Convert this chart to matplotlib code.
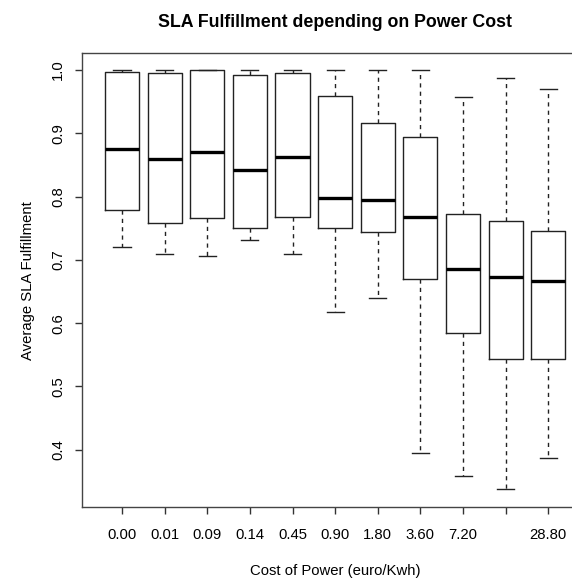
import matplotlib.pyplot as plt

# -----------------------------
# data
# -----------------------------
costs = ["0.00", "0.01", "0.09", "0.14", "0.45", "0.90", "1.80", "3.60", "7.20", "14.40", "28.80"]
whis_lo = [0.720, 0.710, 0.706, 0.731, 0.710, 0.617, 0.639, 0.394, 0.358, 0.338, 0.387]
q1 = [0.779, 0.759, 0.766, 0.750, 0.768, 0.750, 0.744, 0.670, 0.585, 0.543, 0.543]
med = [0.875, 0.860, 0.870, 0.842, 0.862, 0.798, 0.794, 0.768, 0.686, 0.673, 0.666]
q3 = [0.997, 0.996, 1.000, 0.993, 0.995, 0.959, 0.916, 0.894, 0.773, 0.761, 0.745]
whis_hi = [1.000, 1.000, 1.000, 1.000, 1.000, 1.000, 1.000, 1.000, 0.958, 0.987, 0.970]

# R dropped the "14.40" label because it overlapped its neighbours
shown_labels = [c if c != "14.40" else "" for c in costs]

plt.rcParams['font.family'] = ['Liberation Sans', 'DejaVu Sans']

stats = []
for i in range(len(costs)):
    stats.append(dict(whislo=whis_lo[i], q1=q1[i], med=med[i], q3=q3[i],
                      whishi=whis_hi[i], fliers=[], label=costs[i]))

fig = plt.figure(figsize=(5.72, 5.79), dpi=100)
ax = fig.add_axes([0.1434, 0.1244, 0.8566, 0.7836])

pos = list(range(1, len(costs) + 1))
ax.bxp(stats, positions=pos, widths=0.8, showfliers=False,
       boxprops=dict(color="#222222", linewidth=1.0),
       medianprops=dict(color="black", linewidth=2.4, solid_capstyle="butt"),
       whiskerprops=dict(color="#222222", linewidth=1.0, linestyle=(0, (3, 3))),
       capprops=dict(color="#222222", linewidth=1.0),
       capwidths=0.4)

ax.set_xlim(0.062, 11.556)
ax.set_ylim(0.3094, 1.0266)
ax.set_xticks(pos)
ax.set_xticklabels(shown_labels, fontsize=10.7)
ax.set_yticks([0.4, 0.5, 0.6, 0.7, 0.8, 0.9, 1.0])
ax.set_yticklabels(["0.4", "0.5", "0.6", "0.7", "0.8", "0.9", "1.0"],
                   rotation=90, va="center", fontsize=10.7)
ax.tick_params(direction="out", length=5, width=1.0, color="#333333")
ax.tick_params(axis="x", pad=10)
ax.tick_params(axis="y", pad=7)

for side in ["left", "bottom", "top"]:
    ax.spines[side].set_color("#444444")
    ax.spines[side].set_linewidth(1.0)
ax.spines["right"].set_visible(False)

# the original plot region runs past the right edge, so texts centre a bit right
ax.set_title("SLA Fulfillment depending on Power Cost", fontsize=12.8,
             fontweight="bold", pad=19, x=0.516)
ax.set_xlabel("Cost of Power (euro/Kwh)", fontsize=10.7, labelpad=16, x=0.516)
ax.set_ylabel("Average SLA Fulfillment", fontsize=10.7, labelpad=12)

plt.savefig("out.png", dpi=100)
